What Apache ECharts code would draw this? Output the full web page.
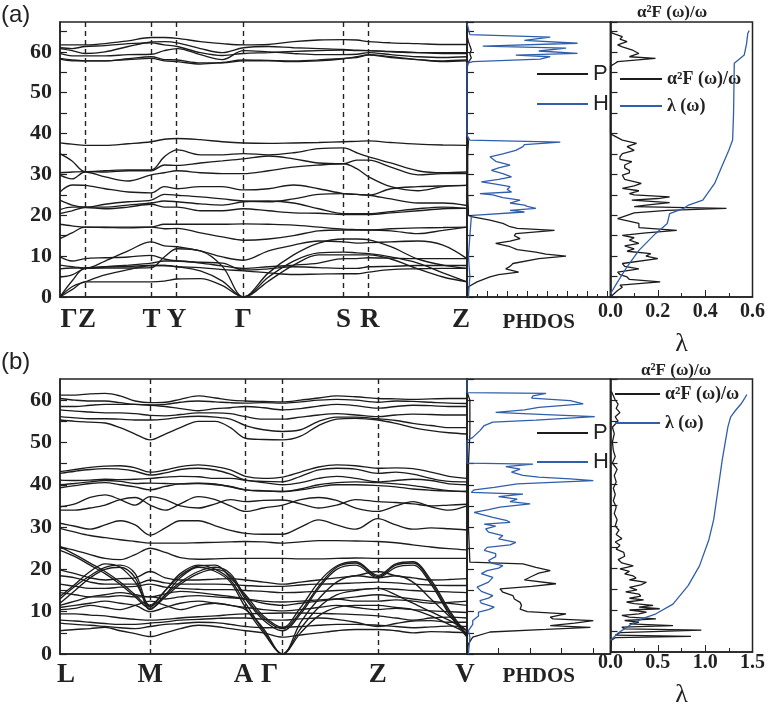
<!DOCTYPE html>
<html><head><meta charset="utf-8">
<script src="https://cdn.jsdelivr.net/npm/echarts@6/dist/echarts.min.js"></script>
<style>html,body{margin:0;padding:0;background:#fff}#c{width:768px;height:709px}</style>
</head><body><div id="c"></div>
<script>
// ---------- panel (a): band structure ----------
const kA = [0,12,25,45,68,91,104,117,140,162,183,208,233,258,283,296,308,330,357,382,406];
const symLinesA = [24.7, 91.3, 116.3, 183, 282.7, 307.7];
const labelPosA = [9, 27, 91.3, 116.3, 183, 282.7, 309, 400];
const labelNamesA = ['Γ','Z','T','Y','Γ','S','R','Z'];
const bandsA = [
 [61.7,61.7,61.7,62,62.7,63.5,63.5,63.3,62.5,62,61.7,61.8,62.5,62.9,63,62.9,62.5,62.2,62,61.8,61.8],
 [60.8,60.3,59.6,60,61.3,62.4,62.5,62.2,60.8,59.8,61,61.3,61,60.8,60.6,60.4,60.3,60,59.8,59.8,59.8],
 [59.6,59,59,59,59.3,59.4,60.3,60.8,59.3,58.1,60.3,60,59.6,59.3,59.3,59.4,59.8,59.3,58.8,58.6,58.8],
 [58.4,58,57.8,57.8,58.3,58.8,58.1,58,57.3,57.3,57.8,57.8,57.6,57.8,58.3,58.8,59.3,58.8,58.1,57.8,58],
 [58.2,57.8,57.8,57.8,58.1,58.4,57.8,57.6,57,57.4,58,57.9,57.8,58,58.4,58.6,59.2,58.6,58.1,57.6,57.8],
 [61,60.8,61.3,61.5,62,62.2,61.7,61.3,59.8,59.1,59.6,59.8,60.1,60.3,60.4,60.3,60.3,60.1,59.8,59.6,59.6],
 [37.7,37.4,37.1,37.1,37.5,38,38.6,38.8,38.5,38,37.7,37.6,37.7,37.8,38,38.1,38.2,37.8,37.4,37.2,37.1],
 [35.1,33.3,30.7,30.9,31.1,31.1,34.3,36,34.8,34.8,35.1,34.8,35.3,36.3,36.5,35.3,34.3,32.8,30.9,30.4,30.6],
 [30.4,30.6,30.7,30.6,30.9,30.9,32.3,32.2,32.8,33.3,33.8,34.5,33.8,32.8,32.6,33.5,33.5,31.8,29.9,30.2,30.2],
 [29.8,28.9,30.6,29.4,28.4,29.9,30.4,30.9,30.4,30.2,30.2,30.9,31.8,32.3,32.6,31.4,29.4,27,26,27,27.3],
 [25.7,27.4,27.3,26.5,25.7,25.5,27,26.5,27,27,26.2,26.5,27.4,26.5,25.3,25.1,24.9,26.5,27,27.2,27.3],
 [23.7,22.5,22,22.7,23.3,23.7,25.1,24.9,24.5,24,23.5,23.3,24,25.1,25.3,25.1,24.9,24,23,23,22.4],
 [21.4,22,22,22,22.5,23,23.5,23.3,22.8,22.5,23.3,23.5,23,21.6,20.4,20.4,20.4,20.9,21.6,22,21.7],
 [20.4,21.1,21.9,21.6,22,22.7,22,22,21.1,21.1,21.6,21.1,20.6,20.5,20.2,20.2,20.2,20.6,21.1,21.6,21.7],
 [17.8,17.4,17.1,17.1,17.1,17.1,17.8,17.8,17.8,17.8,17.9,17.8,17.6,17.1,16.6,16.5,16.4,16.7,16.9,17,17.1],
 [14.3,15.7,17.1,17,16.9,17.1,16.7,16.8,15.7,14.7,13.9,14.2,15,16.2,16.4,16.4,16.4,16.2,15.5,16.3,17.1],
 [0,1.8,3.7,3.7,3.7,3.7,3.9,4.4,4.5,2.8,0,3.9,7.8,10.3,10.3,10.3,10.3,9.3,6.9,4.9,3.7],
 [0,2.5,3.7,5.4,6.7,7.7,7.7,7.4,6.4,3.9,0,4.9,8.8,10.8,11,10.8,10.6,9.8,8.3,5.9,3.7],
 [0,3.9,7,7.1,7.1,7.2,9.8,11.8,11.3,7.5,0,5.9,10.3,13.2,14.2,14.2,14,12.3,9.3,7.8,7],
 [6.9,7.1,7,8.8,11.3,13.5,12.5,12.3,11.3,9.8,9,11.3,12.7,13.7,13.5,13.2,13.3,13.5,13.7,12.7,9.4],
 [4.9,5.4,7,7.4,7.8,8.3,8.8,8.8,8.3,7.6,7,7.4,7.8,8.3,9.4,9.4,9.6,9.5,9.4,9.4,9.4],
 [9.8,8.8,9.4,9.6,9.8,10.2,9.3,8.8,8.5,8.3,6.6,6.9,7.4,7.2,7,7,7.4,7.5,7.7,7.7,7.7],
 [7.8,7.4,7.1,7.4,7.5,7.7,7.7,7.4,7.2,6.7,6.4,5.9,5.5,5.6,5.7,5.7,6.1,6.7,6.9,7,7]
];
// ---------- panel (b): band structure ----------
const kB = [0,15,30,45,60,75,90,105,120,138,155,170,185,203,222,240,258,276,295,317,335,352,370,388,406];
const symLinesB = [90, 185, 222, 317];
const labelPosB = [6, 90, 183, 209, 317, 404];
const labelNamesB = ['L','M','A','Γ','Z','V'];
const bandsB = [
 [61.2,61.2,61.5,61.6,61,59.8,59.4,59.5,60.2,61,60.5,60,59.8,59.7,59.6,60,60.5,61,60.8,60.4,60.3,60.2,60.3,60.4,60.4],
 [60.4,60,59.8,59.8,59.4,59,58.9,59,59.5,59.8,59.6,59.4,59.3,59.4,59.3,59.6,60,60.2,60,59.5,59.8,59.7,59.5,59.3,59.2],
 [58.5,58.5,58.8,59,59,59,58.8,58.5,58,57.5,58,58.2,58.5,58.2,57.7,58,58.6,59,58.7,58.1,58.5,58.8,58.7,58.5,58.5],
 [57.7,57.4,57.2,57,57,56.8,56.4,56.3,56.6,57,57,56.8,56.1,55.5,55.5,56,56.5,56.8,56.5,56.1,56.5,56.7,56.6,56.5,56.5],
 [56.1,55.8,55.6,55.6,55.5,55.3,55.3,55.5,56,56.2,56,55.5,54,53,52.6,53,55,56,56,55.6,55.2,54.5,54,53.5,53.5],
 [55.3,55,54.8,54.6,53.5,52,50.6,52,53.5,55,55,53.5,51,50.7,50.6,51.5,54,55.5,55.7,55.3,54.5,53.5,52.8,52.3,52],
 [43.1,43.6,44.1,44.4,44.5,44,43,43.5,44.3,44.7,44.3,43.5,42,41.5,41.8,43,44.2,44.7,44.5,43.9,44,43.8,43,42,41.5],
 [42.7,43.2,43.6,43.8,43.7,43.2,42.3,42.8,43.6,43.9,43.5,42.5,41.1,40.8,40.7,42,43.5,43.9,43.7,42.7,43,42.5,41.5,40.8,40.7],
 [41.1,41,41.1,41.3,41.2,41.3,41.5,41.8,42,41.9,41.5,41.5,41.1,40.5,40,40.5,41.5,42,41.5,40.7,41,41.3,41,40.2,40],
 [40,40.3,40.7,41,40.8,40.3,40.4,40.3,40.2,40.4,40.2,39.5,38.8,38.6,38.4,39,40,40.5,40.7,40.5,40.2,39.8,39.2,38.6,38.4],
 [39.3,39.8,40.3,40.5,40,39.5,38.8,39.6,40.2,40.3,40,39.6,38.8,38.5,38.4,38.8,39.5,40,40,39.8,39.5,39,38.7,38.5,38.4],
 [34.8,35.5,37,37.6,36.5,35.2,37.2,36.5,35,34.5,35.5,36.5,36,36.3,36.4,35.5,34.5,35.2,36.5,36,35.8,35.5,35,35.2,35.4],
 [34,34,34.5,35.2,36.5,37,35.2,34,35.5,37.2,36.5,35,33.7,34.5,35.2,36.5,37,36.3,34.5,33.7,35,36,34.8,34,35],
 [30.9,30.2,29.5,30.5,31.5,30.5,28.1,29.8,31.5,31.5,30.3,29.2,28.5,28.3,28.3,30,31.7,30.5,29.5,32,30.5,29.5,29.8,29.6,29.3],
 [29.7,28.8,28,27.5,27,26.6,26.2,26.2,26.2,26.3,26.4,26.5,26.6,26.5,26.2,26.5,26.8,26.8,26.7,26.6,26.3,25.8,25.3,24.9,24.6],
 [25.4,24.5,23.5,22.6,22.3,23.5,25,24,22.8,22.4,22.5,22.6,22.6,22.6,22.6,22.5,22.5,22.6,22.7,22.6,22.6,22.6,22.6,22.6,22.6],
 [13,16,18.5,20.5,21,19,11.2,15,19,21,20,17.5,12,5.5,0,6,11,14,15,15.5,14,12,10,8,5.5],
 [12,15,18,20,20.5,18,10.5,14,18,20.5,19.5,17,11,5,0,7.5,13,17,18.5,18,18.5,17,13,9,5.5],
 [11,11.5,12,12.5,12,11.5,10,11,12,12.5,12,11.5,10.5,6,0,5,9,11,11.5,11.5,11,10.5,9,7,5],
 [25.4,23.5,21.5,19.5,17,14,11.2,14,17,19.5,20.5,19,13.5,8.5,6,10,16,20.5,21.5,18.3,21,21.5,17,10,4.2],
 [24.5,23,21,19,16.5,13.5,10.8,13.5,16.5,19,20,18.5,13,8,5.5,9.5,15.5,20,21,18,20.5,21,16.5,9.5,4],
 [13.6,16.5,19.5,21.3,20.5,17,11.5,15,18.5,20.8,21,18,14,9,6.3,11,17,20.8,21.8,18.6,21.3,21.8,17.5,10.5,4.5],
 [19.9,19,18,17.5,17.8,18,19.5,18,17.5,17.5,17.7,17.8,17.5,17,16.5,17,17.5,18,18.5,19.5,18.5,18,17.5,17.6,17.8],
 [18.5,18,17,16.5,16.5,16.5,17.5,16.8,16.5,16.5,16.5,16.4,16.2,16,16,16.3,16.5,16.6,16.8,17,16.8,16.5,16.3,16.2,16.2],
 [16.5,16,15.5,15.5,15.8,16,16.5,15.8,15.5,15.3,15.2,15.2,15,14.8,14.5,14.6,14.8,15,15.2,15.5,15.3,15,14.8,14.7,14.5],
 [14.5,14,13.5,13.5,13.8,13.5,13.5,13,13.5,13.8,13.5,13.3,13,12.5,12.3,12.5,12.8,13,12.5,12.5,12.8,12.5,12,12.2,12.5],
 [10.5,10.8,11.5,11,10.5,11.5,12.5,11.5,10.5,11.5,12,11.5,11,10.5,10.2,10.5,11,11.5,11,10.5,10.8,10.5,10.2,10,9.8],
 [9.5,9.5,9.2,9,8.5,8.2,8,8.2,8.5,8.8,9,9.3,9.5,9.6,9.7,9.7,9.6,9.5,9.3,9,8.5,8,8.5,8.7,8.5],
 [8,7.8,7.5,7.2,7,7,7.3,7.6,8,8.2,8.4,8.5,8.5,8.2,8,8.3,8.5,8.2,7.5,6.5,7.2,7.8,7.9,7.5,7.5],
 [7.3,7,6.8,6.5,6.2,6,6.5,7,7.2,7.5,7.4,7,6.5,6.2,6.3,6.5,6.8,7,7,6.8,6.5,6.2,6.4,6.6,6.5],
 [5.5,5.8,6,6.3,5.5,4.8,4.1,5,6,6.8,6.5,6,5.5,5,4,4.5,5,5.5,5.8,5.8,5.5,5,5.3,5.2,5],
 [11.5,12.5,13.5,14,14.5,14,13.5,14.2,14.8,14.5,14,13.6,13,12,11.5,12,12.5,13,13.5,14,13.5,13,12.5,12,11.5]
];
// ---------- PHDOS: [E, density] ----------
const pdosA_P = [[0,0],[2.5,0.01],[3.7,0.07],[4.9,0.16],[5.5,0.22],[6.1,0.36],[6.9,0.27],[7.5,0.3],[8.2,0.32],[9.4,0.5],[10,0.69],[10.5,0.55],[11,0.48],[11.6,0.35],[12.3,0.3],[13.1,0.2],[13.7,0.3],[14.3,0.37],[15,0.33],[15.5,0.34],[16.3,0.61],[16.8,0.35],[17.2,0.3],[18,0.25],[18.8,0.16],[19.6,0.04],[20,0.01],[21,0.01],[25,0.005],[30,0.005],[35,0.005],[38,0.01],[40,0],[56,0],[57.5,0.01],[58.5,0.03],[59.5,0.02],[60.5,0.03],[61.5,0.02],[62.5,0.01],[64,0],[67,0]];
const pdosA_H = [[0,0.01],[5,0.02],[10,0.01],[15,0.02],[19.5,0.03],[20,0.04],[20.8,0.4],[21.2,0.3],[21.7,0.48],[22.2,0.42],[22.5,0.4],[23,0.3],[23.7,0.37],[24.3,0.25],[25,0.18],[25.3,0.09],[25.7,0.31],[26.3,0.28],[27,0.3],[27.6,0.2],[28.2,0.1],[28.8,0.22],[29.4,0.31],[30.2,0.25],[31,0.17],[31.6,0.22],[32.3,0.3],[33.2,0.2],[34.3,0.16],[35,0.25],[35.9,0.34],[36.8,0.39],[37.3,0.4],[37.9,0.65],[38.4,0.02],[39.5,0],[45,0],[56.5,0],[57.2,0],[57.6,0.04],[58.2,0.51],[58.8,0.58],[59.2,0.34],[59.6,0.77],[60.2,0.5],[60.9,0.69],[61.4,0.11],[62.1,0.77],[62.8,0.4],[63.6,0.58],[64.2,0.02],[67,0]];
const pdosB_P = [[0,0],[2.4,0.01],[4,0.04],[5.2,0.16],[5.8,0.55],[6.3,0.86],[6.7,0.58],[7.3,0.75],[7.9,0.88],[8.3,0.6],[8.7,0.58],[9.5,0.69],[10,0.42],[10.6,0.37],[11.5,0.38],[12.2,0.37],[13,0.33],[13.8,0.32],[14.6,0.25],[15.4,0.23],[16,0.45],[16.6,0.62],[17.5,0.4],[18.5,0.46],[19.1,0.5],[19.7,0.58],[20.5,0.48],[21.3,0.39],[21.7,0.02],[22,0.01],[30,0.01],[40,0.01],[45,0.01],[52,0.02],[56,0.02],[60,0.02],[62,0],[65,0]];
const pdosB_H = [[0,0.01],[4,0.02],[5.5,0.01],[7,0.04],[7.9,0.04],[9,0.08],[9.9,0.08],[10.5,0.15],[11.1,0.19],[12,0.1],[12.6,0.09],[13.2,0.15],[13.8,0.18],[14.8,0.1],[15.8,0.07],[17,0.15],[18.1,0.18],[19,0.1],[19.7,0.14],[20.3,0.22],[20.9,0.25],[21.5,0.17],[22.1,0.15],[23,0.2],[23.7,0.2],[24.5,0.12],[25.2,0.14],[25.8,0.3],[26.4,0.34],[27.2,0.22],[28,0.25],[28.8,0.15],[29.6,0.13],[30.2,0.2],[30.7,0.12],[31.1,0.3],[31.5,0.28],[32.3,0.18],[33,0.1],[33.5,0.05],[34.1,0.15],[34.7,0.23],[35.5,0.44],[36,0.3],[36.6,0.35],[37.2,0.22],[37.8,0.39],[38.2,0.03],[38.8,0.05],[39.4,0.19],[40.2,0.35],[41,0.88],[41.4,0.72],[41.8,0.5],[42.2,0.39],[43,0.31],[43.7,0.37],[44.3,0.27],[44.9,0.46],[45.1,0],[50.4,0],[51.2,0.04],[52.8,0.09],[54,0.12],[54.8,0.18],[55.3,0.48],[56.1,0.89],[56.6,0.55],[57.1,0.2],[57.7,0.4],[58.3,0.5],[59.1,0.81],[59.9,0.72],[60.5,0.45],[61,0.46],[61.6,0.55],[61.8,0],[65,0]];
// ---------- Eliashberg: [E, value] ----------
const a2fA = [[0,0],[0.4,0.005],[1.6,0.03],[2.4,0.05],[2.9,0.04],[3.7,0.21],[4.3,0.08],[4.9,0.07],[5.5,0.04],[6.1,0.03],[6.9,0.12],[7.5,0.06],[8.2,0.05],[9.4,0.2],[10,0.15],[10.6,0.17],[11.2,0.07],[11.8,0.1],[12.5,0.06],[13.1,0.12],[13.9,0.08],[14.5,0.1],[15.1,0.05],[15.7,0.15],[16.3,0.28],[17,0.12],[18,0.12],[19.2,0.03],[20,0.07],[20.6,0.1],[21.2,0.24],[21.7,0.49],[22.1,0.1],[22.5,0.15],[23.1,0.25],[23.7,0.09],[24.1,0.2],[24.5,0.25],[25,0.1],[25.3,0.08],[26,0.12],[26.6,0.05],[27.2,0.1],[27.8,0.13],[28.8,0.06],[29.8,0.05],[30.4,0.08],[31,0.08],[31.6,0.06],[32.3,0.06],[33.1,0.09],[33.7,0.04],[34.3,0.04],[35.1,0.05],[35.9,0.1],[36.8,0.07],[37.6,0.11],[38.4,0.05],[39.6,0.01],[40,0],[56.5,0],[57.2,0.02],[57.6,0.03],[58.4,0.19],[58.8,0.08],[59.6,0.12],[60.5,0.09],[61.2,0.05],[61.7,0.03],[62.5,0.07],[63.1,0.04],[63.7,0.05],[64.5,0.01],[65,0]];
const lamA = [[0.8,0],[3.2,0.025],[7.4,0.07],[11.4,0.12],[15.5,0.19],[18,0.24],[20.4,0.25],[21.7,0.31],[22.5,0.33],[23.7,0.39],[27.8,0.44],[31.9,0.47],[35.9,0.5],[38.4,0.516],[45,0.52],[57.2,0.523],[58.5,0.55],[59.2,0.565],[62,0.575],[64.5,0.58],[65.2,0.586]];
const a2fB = [[0,0],[2.8,0.01],[3.4,0.05],[3.7,0.85],[4,0.05],[4.6,0.1],[5.2,0.96],[5.5,0.15],[5.9,0.12],[6.3,0.66],[6.7,0.2],[7.1,0.3],[7.5,0.15],[7.9,0.48],[8.3,0.2],[8.7,0.12],[9.1,0.3],[9.5,0.38],[10,0.2],[10.3,0.52],[10.7,0.3],[11.1,0.45],[11.5,0.25],[11.9,0.17],[12.4,0.35],[12.8,0.2],[13.3,0.32],[13.8,0.3],[14.3,0.16],[14.8,0.28],[15.4,0.2],[16,0.32],[16.6,0.38],[17.2,0.2],[17.6,0.27],[18.1,0.24],[18.6,0.15],[19.2,0.2],[19.8,0.1],[20.5,0.24],[21.2,0.12],[22,0.08],[22.8,0.15],[23.7,0.14],[24.5,0.06],[25.4,0.1],[26.2,0.05],[27,0.12],[28,0.06],[29,0.09],[30,0.05],[31.5,0.07],[33,0.04],[34.5,0.06],[36,0.03],[37.5,0.05],[39,0.03],[40.5,0.06],[42,0.04],[43.5,0.07],[45,0.02],[46.5,0.05],[48,0.03],[50,0.02],[52,0.04],[53.5,0.02],[55,0.08],[56,0.05],[57,0.1],[58,0.06],[59,0.08],[60,0.05],[61,0.03],[62,0.01]];
const lamB = [[2.8,0],[4.5,0.08],[6.3,0.2],[7.9,0.33],[9.1,0.48],[11.4,0.66],[15.8,0.82],[20.5,0.94],[26.8,1.04],[31.5,1.09],[37.8,1.13],[45.7,1.18],[53.6,1.24],[56,1.27],[57.5,1.32],[59.1,1.38],[60.5,1.42],[61.3,1.44]];
const eliTicksA = [0, 0.6, 0.2];
const eliTicksB = [0, 1.5, 0.5];
const yMaxA = 67.3, yMaxB = 65;

const SERIF = '"Liberation Serif", "DejaVu Serif", serif';
const SANS = '"Liberation Sans", Arial, sans-serif';
const BLACK = '#1c1c1c', BLUE = '#2f5eab', FRAME = '#222';
const NAME_P = 'P', NAME_H = 'H', NAME_A2F = 'α²F (ω)/ω', NAME_LAM = 'λ (ω)';

function gridsFor(top) {
  return [
    {left:60, top, width:407, height:275},
    {left:467, top, width:143.5, height:275},
    {left:610.5, top, width:142.5, height:275}
  ].map(g => Object.assign(g, {show:true, borderColor:FRAME, borderWidth:1.5, backgroundColor:'transparent'}));
}
function yAx(gi, max, isBand) {
  return {type:'value', gridIndex:gi, min:0, max, interval:5,
    axisLine:{show:true, lineStyle:{color:FRAME, width:1.5}},
    axisTick:{show:true, inside:true, length:7, lineStyle:{color:FRAME, width:1.2}},
    splitLine:{show:false},
    axisLabel: isBand ? {show:true, margin:8, fontFamily:SERIF, fontWeight:'bold', fontSize:22, color:FRAME,
      showMaxLabel:false, formatter: v => (Math.abs(v % 10) < 1e-6 ? String(v) : '')} : {show:false}};
}
function bandX(gi, labelPos, labelNames, margin) {
  return {type:'value', gridIndex:gi, min:0, max:406,
    axisLine:{show:true, lineStyle:{color:FRAME, width:1.5}}, axisTick:{show:false}, splitLine:{show:false},
    axisLabel:{show:true, customValues:labelPos, margin, fontFamily:SERIF, fontWeight:'bold', fontSize:27, color:FRAME,
      formatter: v => { let b = 0; labelPos.forEach((p,i)=>{ if (Math.abs(p - v) < Math.abs(labelPos[b] - v)) b = i; }); return labelNames[b]; }}};
}
function pdosX(gi, interval, nameGap) {
  return {type:'value', gridIndex:gi, min:0, max:1, interval,
    axisLine:{show:true, lineStyle:{color:FRAME, width:1.5}},
    axisTick:{show:true, inside:true, length:6, lineStyle:{color:FRAME}},
    minorTick:{show: interval < 0.2, splitNumber:2, length:3, lineStyle:{color:FRAME}},
    splitLine:{show:false}, minorSplitLine:{show:false}, axisLabel:{show:false},
    name:'PHDOS', nameLocation:'middle', nameGap,
    nameTextStyle:{fontFamily:SERIF, fontWeight:'bold', fontSize:21, color:FRAME}};
}
function eliX(gi, ticks, labelMargin, nameGap) {
  return {type:'value', gridIndex:gi, min:ticks[0], max:ticks[1], interval:ticks[2],
    axisLine:{show:true, lineStyle:{color:FRAME, width:1.5}},
    axisTick:{show:true, inside:true, length:7, lineStyle:{color:FRAME}},
    minorTick:{show:true, splitNumber:2, length:4, lineStyle:{color:FRAME}},
    splitLine:{show:false}, minorSplitLine:{show:false},
    axisLabel:{show:true, margin:labelMargin, fontFamily:SERIF, fontWeight:'bold', fontSize:20, color:FRAME,
      formatter: v => v.toFixed(1)},
    name:'λ', nameLocation:'middle', nameGap,
    nameTextStyle:{fontFamily:SERIF, fontSize:26, color:FRAME}};
}
function bandSeries(bands, k, ai, lines) {
  return bands.map((b, j) => ({
    type:'line', xAxisIndex:ai, yAxisIndex:ai, data:b.map((e,i)=>[k[i], e]),
    smooth:0.35, showSymbol:false, symbol:'none', silent:true,
    lineStyle:{color:BLACK, width:1.35}, itemStyle:{color:BLACK},
    markLine: j === 0 ? {silent:true, symbol:['none','none'], animation:false, label:{show:false},
      lineStyle:{color:FRAME, type:[5,4], width:1.4}, data: lines.map(x => ({xAxis:x}))} : undefined
  }));
}
function curve(name, pts, ai, color) {
  return {type:'line', name, xAxisIndex:ai, yAxisIndex:ai, data: pts.map(p => [p[1], p[0]]),
    showSymbol:false, symbol:'none', silent:true, color,
    lineStyle:{color, width:1.3}, itemStyle:{color}};
}
function legendFor(names, left, top, gap, width, font) {
  return {data:names, orient:'vertical', left, top, itemGap:gap, itemWidth:width, itemHeight:2, icon:'rect',
    selectedMode:false, padding:0, textStyle:font};
}
const sansLeg = {fontFamily:SANS, fontSize:22, color:FRAME};
const serifLeg = {fontFamily:SERIF, fontWeight:'bold', fontSize:18, color:FRAME};

const option = {
  animation:false,
  backgroundColor:'#fff',
  title:[
    {text:'(a)', left:1, top:3, padding:0, textStyle:{fontFamily:SANS, fontWeight:'normal', fontSize:24, color:FRAME}},
    {text:'(b)', left:1, top:350, padding:0, textStyle:{fontFamily:SANS, fontWeight:'normal', fontSize:24, color:FRAME}},
    {text:NAME_A2F, left:637, top:4, padding:0, textStyle:{fontFamily:SERIF, fontWeight:'bold', fontSize:17, color:FRAME}},
    {text:NAME_A2F, left:641, top:362, padding:0, textStyle:{fontFamily:SERIF, fontWeight:'bold', fontSize:17, color:FRAME}}
  ],
  legend:[
    legendFor([NAME_P, NAME_H], 537, 63, 8, 51, sansLeg),
    legendFor([NAME_A2F, NAME_LAM], 620, 70, 9, 42, serifLeg),
    legendFor([NAME_P, NAME_H], 537, 422, 7, 51, sansLeg),
    legendFor([NAME_A2F, NAME_LAM], 615, 385, 11, 45, serifLeg)
  ],
  grid:[...gridsFor(22), ...gridsFor(379)],
  xAxis:[
    bandX(0, labelPosA, labelNamesA, 10), pdosX(1, 0.14, 15), eliX(2, eliTicksA, 5, 34),
    bandX(3, labelPosB, labelNamesB, 8), pdosX(4, 0.22, 12), eliX(5, eliTicksB, 1, 30)
  ],
  yAxis:[
    yAx(0, yMaxA, true), yAx(1, yMaxA, false), yAx(2, yMaxA, false),
    yAx(3, yMaxB, true), yAx(4, yMaxB, false), yAx(5, yMaxB, false)
  ],
  series:[
    ...bandSeries(bandsA, kA, 0, symLinesA),
    curve(NAME_P, pdosA_P, 1, BLACK), curve(NAME_H, pdosA_H, 1, BLUE),
    curve(NAME_A2F, a2fA, 2, BLACK), curve(NAME_LAM, lamA, 2, BLUE),
    ...bandSeries(bandsB, kB, 3, symLinesB),
    curve(NAME_P, pdosB_P, 4, BLACK), curve(NAME_H, pdosB_H, 4, BLUE),
    curve(NAME_A2F, a2fB, 5, BLACK), curve(NAME_LAM, lamB, 5, BLUE)
  ]
};
const chart = echarts.init(document.getElementById('c'), null, {renderer:'canvas'});
chart.setOption(option);
</script>
</body></html>
